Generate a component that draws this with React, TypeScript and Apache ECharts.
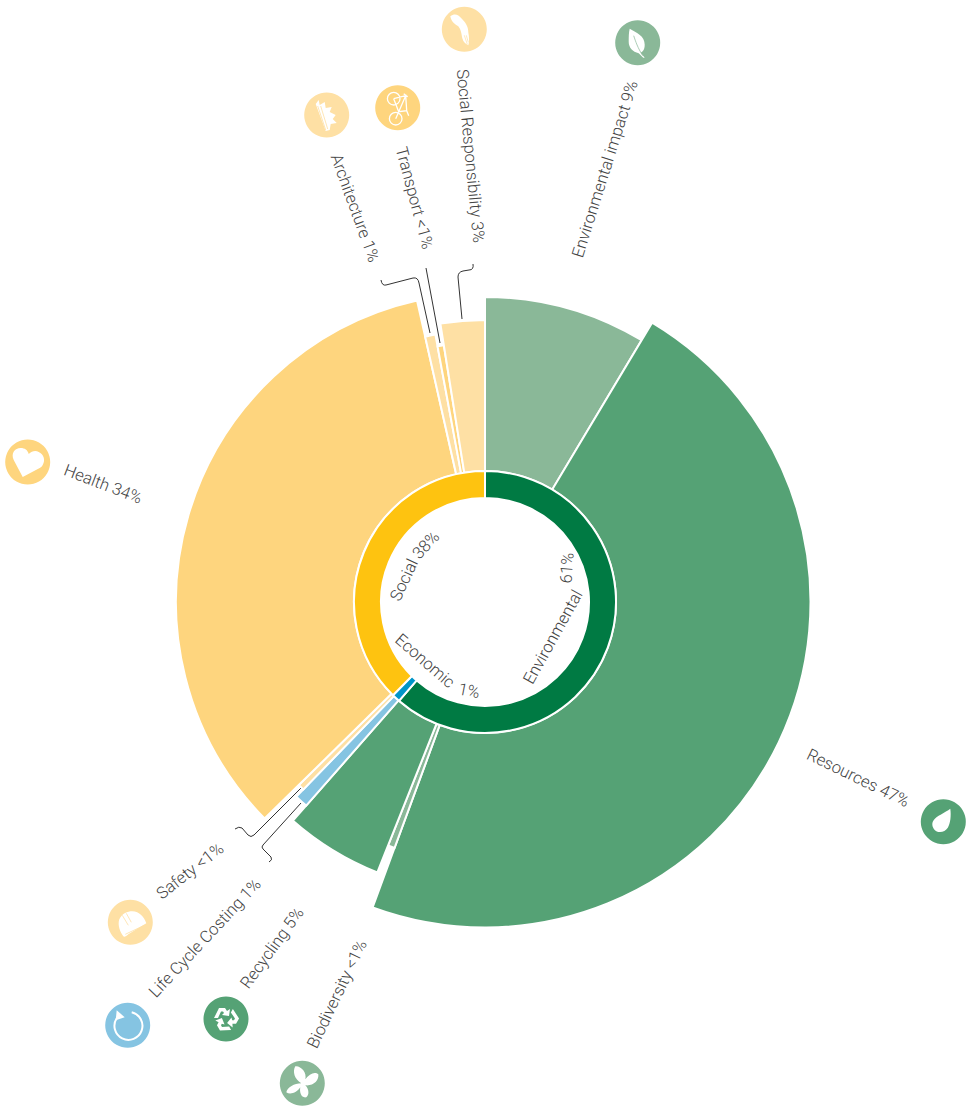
import React, { useEffect, useRef } from "react";
import * as echarts from "echarts";

// ---- data ----
const outerNames = ["Environmental impact", "Resources", "Biodiversity", "Recycling", "Life Cycle Costing", "Safety", "Health", "Architecture", "Transport", "Social Responsibility"];
const outerShares = [8.58, 47.03, 0.42, 5.44, 0.78, 0.39, 33.83, 0.61, 0.39, 2.53];
const outerDepth = [304, 324.5, 261, 290, 270, 260, 308, 271, 259, 281];
const outerLabels = ["Environmental impact 9%", "Resources 47%", "Biodiversity <1%", "Recycling 5%", "Life Cycle Costing 1%", "Safety <1%", "Health 34%", "Architecture 1%", "Transport <1%", "Social Responsibility 3%"];
const innerNames = ["Environmental", "Economic", "Social"];
const innerShares = [61.4, 1.0, 37.6];

// ---- style ----
const GREEN_L = "#8ab898", GREEN_M = "#55a275", YEL = "#fed57e", PALE = "#fee0a4", BLUE_L = "#85c4e2";
const outerColors = [GREEN_L, GREEN_M, GREEN_L, GREEN_M, BLUE_L, PALE, YEL, PALE, YEL, PALE];
const innerColors = ["#007a43", "#0095c8", "#fec310"];
const TEXT = "#444";
const CX = 485, CY = 602;
const FONT = "Roboto, 'Liberation Sans', sans-serif";

// ---- shapes ----
const shapes: Record<string, string> = {
  leaderArch: "M430,333 L419,283 Q418,277 413,278 L386,285 Q382,286 381,280",
  leaderSocial: "M462,319 L458,277 Q458,272 463,271 L469,270 Q474,270 473,264",
  leaderSafety: "M301,788 L254,835 Q251,838 248,835 L242,828 Q239,826 235,829",
  leaderLcc: "M301,803 L263,845 Q261,847 263,849 L271,857 Q273,860 269,862",
  leaderTransport: "M426,268 L440,343",
  heart: "M-5,15 L-14,-2 C-17,-9 -13,-14 -7,-14 C-3,-14 0,-12 1,-8 C4,-11 8,-12 11,-10 C16,-8 18,-2 15,3 C14,5 13,5.5 12,6 Z",
  drop: "M7,-13 C8,-6 7,2 4.5,6 C2,10 -3,11.5 -7,9.5 C-11,7 -12,2 -10,-1 C-7,-6 2,-9 7,-13 Z",
  leaf: "M-8,-14 C-1,-10 7,-7 7,2 C7,7 5,9 3,10 L7,15 L5.5,15 L1,10.5 C-5,9 -9,5 -9,-1 C-9,-6 -9,-10 -8,-14 Z",
  butterfly: "M-1,0 C-8,-4 -10,-12 -7,-17 C-2,-18 5,-11 3,-4 C7,-10 13,-12 16,-9 C17,-3 11,3 3,2 C7,6 7,12 4,14 C-1,15 -3,9 -2,4 C-5,9 -12,12 -16,9 C-15,4 -8,0 -1,0 Z",
  recycle: "M-12,-1 L-7,-11 L-1,-11 L1,-8 L4,-10 L3,-3 L-4,-4 L-2,-6 L-3,-7.5 L-5,-7.5 L-8,-1 Z",
  loop: "M-11,-7 A14,14 0 1 0 4,-13",
  loopHead: "M-11,-15 L-12,-5 L-3,-8 Z",
  helmet: "M-11,-3 C-8,-9 -3,-11 2,-11 C9,-11 14,-5 16,1 L-2,12 C-4,14 -6,15 -7,14 C-10,10 -13,3 -11,-3 Z",
  helmetLines: "M-8,-7 L-2,3 M-4,-9 L1,0 M-5,12 L14,3",
  wing: "M-14,-13 C-10,-16 -6,-15 -3,-11 C1,-7 4,-3 4,3 C5,8 5,13 4,16 C2,15 -1,13 -2,9 C-3,4 -3,1 -6,-3 C-9,-5 -13,-7 -14,-13 Z",
  wingLines: "M0,6 L3,15 M2,6 L4,13",
  feather: "M-11,-11 L-8,-15 L-7,-10 L-2,-13 L-1,-7 L5,-8 L3,-3 L9,0 L6,4 L10,8 L4,9 L3,15 L-1,16 Z",
  featherLines: "M-9,-9 L-1,15 M-6,-9 L1,14",
  bike: "M2.3,-9 A6.3,6.3 0 1 1 -10.3,-9 A6.3,6.3 0 1 1 2.3,-9 Z M4.3,11 A6.3,6.3 0 1 1 -8.3,11 A6.3,6.3 0 1 1 4.3,11 Z M-4,-9 L8,-12 L-2,11 M-4,-9 L1,4 L9,3 L8,-12 M9,3 L11,8 M6,-14 L10,-11",
  leafVein: "M-4,-7 C-2,-1 0,5 5,13",
};
Object.keys(shapes).forEach((k) => echarts.graphic.registerShape(k, echarts.graphic.extendPath(shapes[k], {})));

const label = (text: string, x: number, y: number, deg: number, size = 16.6) => ({
  type: "text", x, y, rotation: (deg * Math.PI) / 180, silent: true,
  style: { text, fill: TEXT, font: `300 ${size}px ${FONT}`, align: "center", verticalAlign: "middle" },
});
const leader = (t: string) => ({ type: t, x: 0, y: 0, silent: true, style: { fill: "none", stroke: "#333", lineWidth: 1 } });
const badge = (x: number, y: number, color: string, parts: any[]) => ({
  type: "group", x, y, silent: true,
  children: [{ type: "circle", shape: { cx: 0, cy: 0, r: 22.5 }, style: { fill: color } }, ...parts],
});
const solid = (t: string, extra: any = {}) => ({ type: t, style: { fill: "#fff" }, ...extra });
const line = (t: string, color = "#fff", w = 1.3) => ({ type: t, style: { fill: "none", stroke: color, lineWidth: w } });

const graphics = [
  label(outerLabels[9], 470.5, 156, -84.5),
  label(outerLabels[0], 605, 169, 72.5),
  label(outerLabels[8], 414.5, 198, -75),
  label(outerLabels[7], 355, 208, -70),
  label(outerLabels[6], 103, 484, -21),
  label(outerLabels[1], 858, 778, -26),
  label(outerLabels[5], 190, 871, 38),
  label(outerLabels[4], 205, 938, 47),
  label(outerLabels[3], 272, 948, 54),
  label(outerLabels[2], 337, 994, 64.5),
  label(innerNames[0], 553, 637, 61),
  label("61%", 567, 568, 86),
  label(innerNames[2], 404, 580, 65),
  label("38%", 426, 545, 47),
  label(innerNames[1], 425, 661, -41),
  label("1%", 469, 691, -11),
  leader("leaderArch"), leader("leaderSocial"), leader("leaderSafety"), leader("leaderLcc"), leader("leaderTransport"),
  badge(464.3, 29.3, PALE, [solid("wing"), line("wingLines", PALE, 0.7)]),
  badge(637.7, 42.7, GREEN_L, [solid("leaf"), line("leafVein", GREEN_L, 0.7)]),
  badge(397.7, 107.7, YEL, [line("bike")]),
  badge(326.7, 115, PALE, [solid("feather"), line("featherLines", PALE, 0.8)]),
  badge(27.7, 462, YEL, [solid("heart")]),
  badge(943.3, 821.7, GREEN_M, [solid("drop")]),
  badge(130.3, 922.3, PALE, [solid("helmet"), line("helmetLines", PALE, 0.8)]),
  badge(127.7, 1025.3, BLUE_L, [line("loop", "#fff", 2), solid("loopHead")]),
  badge(226, 1019, GREEN_M, [0, 120, 240].map((d) => solid("recycle", { rotation: (d * Math.PI) / 180 }))),
  badge(302.3, 1083.3, GREEN_L, [solid("butterfly")]),
];

function cumulative(shares: number[], depth: (i: number) => number, r0: number) {
  let s = 0;
  return shares.map((v, i) => {
    const row = [s, s + v, depth(i), r0, i];
    s += v;
    return row;
  });
}

function sectorRenderer(colors: string[]) {
  return (params: any, api: any) => {
    const { cx, cy } = params.coordSys;
    const a = api.coord([api.value(2), api.value(0)]);
    const b = api.coord([api.value(2), api.value(1)]);
    const start = Math.atan2(a[1] - cy, a[0] - cx);
    let end = Math.atan2(b[1] - cy, b[0] - cx);
    if (end <= start) end += Math.PI * 2;
    return {
      type: "sector",
      shape: { cx, cy, r0: api.value(3), r: api.value(2), startAngle: start, endAngle: end, clockwise: true },
      style: { fill: colors[api.value(4)], stroke: "#fff", lineWidth: 2 },
    };
  };
}

export default function App() {
  const ref = useRef<HTMLDivElement>(null);
  useEffect(() => {
    document.body.style.margin = "0";
    const chart = echarts.init(ref.current!, undefined, { renderer: "svg" });
    chart.setOption({
      animation: false,
      backgroundColor: "#fff",
      polar: { center: [CX, CY], radius: 340 },
      angleAxis: { type: "value", min: 0, max: 100, startAngle: 90, clockwise: true, show: false },
      radiusAxis: { type: "value", min: 0, max: 340, show: false },
      series: [
        {
          type: "custom", coordinateSystem: "polar", silent: true,
          encode: { radius: 2, angle: 0 },
          renderItem: sectorRenderer(outerColors),
          data: cumulative(outerShares, (i) => outerDepth[i] + 1, 131),
        },
        {
          type: "custom", coordinateSystem: "polar", silent: true,
          encode: { radius: 2, angle: 0 },
          renderItem: sectorRenderer(innerColors),
          data: cumulative(innerShares, () => 131, 104),
        },
      ],
      graphic: graphics,
    });
    return () => chart.dispose();
  }, []);
  return <div ref={ref} style={{ position: "absolute", left: 0, top: 0, width: 969, height: 1106 }} />;
}
